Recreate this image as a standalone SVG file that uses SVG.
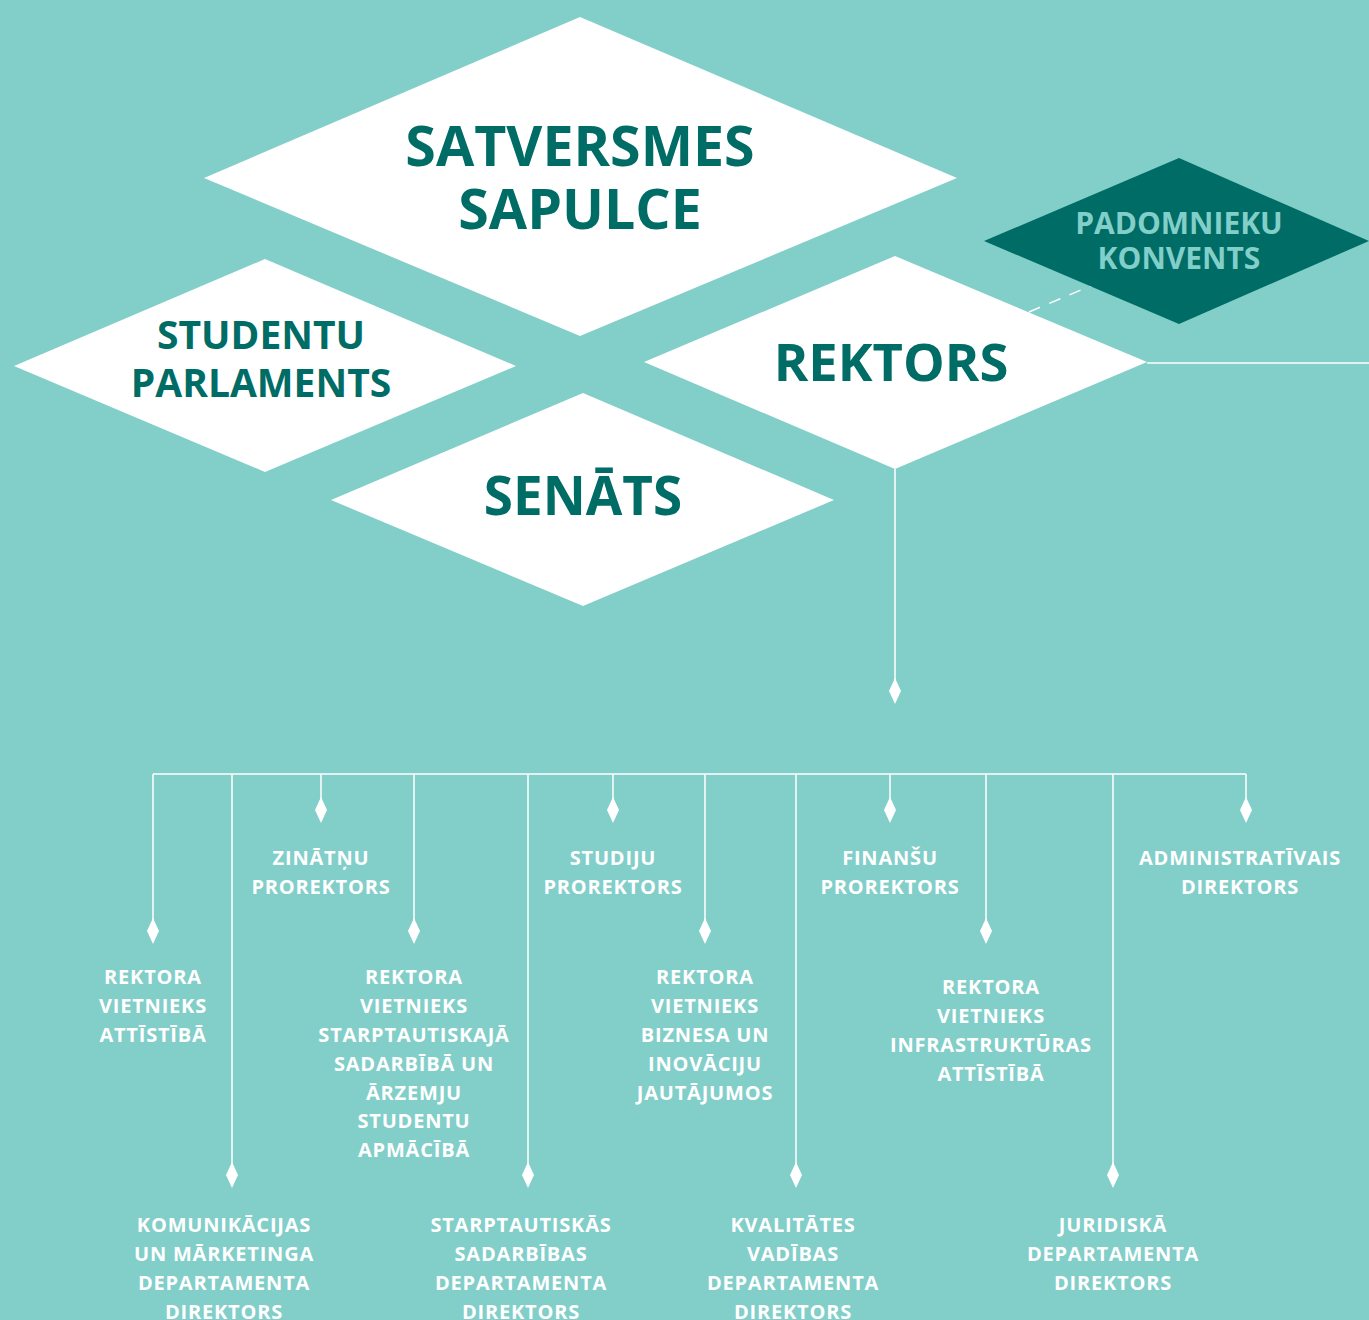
<svg xmlns="http://www.w3.org/2000/svg" width="1369" height="1320" viewBox="0 0 1369 1320">
<defs>
<style>
.bg{fill:#82cec9}
.wd{fill:#ffffff}
.dk{fill:#006c66}
.big{font-family:"Open Sans","Liberation Sans",sans-serif;font-weight:700;fill:#006c66;text-anchor:middle}
.pk{font-family:"Open Sans","Liberation Sans",sans-serif;font-weight:700;fill:#82cec9;text-anchor:middle;font-size:30px}
.lbl{font-family:"Open Sans","Liberation Sans",sans-serif;font-weight:700;fill:#ffffff;text-anchor:middle;font-size:20px;letter-spacing:0.8px}
.ln{stroke:#ffffff;stroke-width:1.5;fill:none}
</style>
<path id="mk" d="M0,-13 L6,0 L0,13 L-6,0 Z" fill="#ffffff"/>
</defs>
<rect class="bg" x="0" y="0" width="1369" height="1320"/>

<g id="connectors">
<line class="ln" x1="1147" y1="363" x2="1369" y2="363"/>
<line class="ln" x1="1029" y1="312" x2="1095" y2="284" stroke-dasharray="12,10"/>
<line class="ln" x1="895" y1="469" x2="895" y2="690"/>
<use href="#mk" x="895" y="691"/>
<line class="ln" x1="153" y1="774" x2="1246" y2="774"/>
<line class="ln" x1="153" y1="774" x2="153" y2="931"/><use href="#mk" x="153" y="931"/>
<line class="ln" x1="232" y1="774" x2="232" y2="1175"/><use href="#mk" x="232" y="1175"/>
<line class="ln" x1="321" y1="774" x2="321" y2="810"/><use href="#mk" x="321" y="810"/>
<line class="ln" x1="414" y1="774" x2="414" y2="931"/><use href="#mk" x="414" y="931"/>
<line class="ln" x1="528" y1="774" x2="528" y2="1175"/><use href="#mk" x="528" y="1175"/>
<line class="ln" x1="613" y1="774" x2="613" y2="810"/><use href="#mk" x="613" y="810"/>
<line class="ln" x1="705" y1="774" x2="705" y2="931"/><use href="#mk" x="705" y="931"/>
<line class="ln" x1="796" y1="774" x2="796" y2="1175"/><use href="#mk" x="796" y="1175"/>
<line class="ln" x1="890" y1="774" x2="890" y2="810"/><use href="#mk" x="890" y="810"/>
<line class="ln" x1="986" y1="774" x2="986" y2="931"/><use href="#mk" x="986" y="931"/>
<line class="ln" x1="1113" y1="774" x2="1113" y2="1175"/><use href="#mk" x="1113" y="1175"/>
<line class="ln" x1="1246" y1="774" x2="1246" y2="810"/><use href="#mk" x="1246" y="810"/>
</g>

<g id="padomnieku-konvents">
<polygon class="dk" points="984,241 1179,158 1369,241 1179,324"/>
<text class="pk" x="1179" y="234">PADOMNIEKU</text>
<text class="pk" x="1179" y="269">KONVENTS</text>
</g>

<g id="satversmes-sapulce">
<polygon class="wd" points="204,178 580,17 957,178 580,336"/>
<text class="big" x="580" y="166" font-size="55.5">SATVERSMES</text>
<text class="big" x="580" y="229" font-size="55.5">SAPULCE</text>
</g>

<g id="studentu-parlaments">
<polygon class="wd" points="14,366 265,259 516,366 265,472"/>
<text class="big" x="261" y="349" font-size="39">STUDENTU</text>
<text class="big" x="261" y="397" font-size="39">PARLAMENTS</text>
</g>

<g id="rektors">
<polygon class="wd" points="644,362 895,256 1147,362 895,469"/>
<text class="big" x="891" y="381" font-size="52.5">REKTORS</text>
</g>

<g id="senats">
<polygon class="wd" points="331,500 583,393 834,500 583,606"/>
<text class="big" x="583" y="515" font-size="53">SENĀTS</text>
</g>

<g id="zinatnu-prorektors">
<text class="lbl" x="321" y="865">ZINĀTŅU</text>
<text class="lbl" x="321" y="894">PROREKTORS</text>
</g>
<g id="studiju-prorektors">
<text class="lbl" x="613" y="865">STUDIJU</text>
<text class="lbl" x="613" y="894">PROREKTORS</text>
</g>
<g id="finansu-prorektors">
<text class="lbl" x="890" y="865">FINANŠU</text>
<text class="lbl" x="890" y="894">PROREKTORS</text>
</g>
<g id="administrativais-direktors">
<text class="lbl" x="1240" y="865">ADMINISTRATĪVAIS</text>
<text class="lbl" x="1240" y="894">DIREKTORS</text>
</g>

<g id="rv-attistiba">
<text class="lbl" x="153" y="984">REKTORA</text>
<text class="lbl" x="153" y="1013">VIETNIEKS</text>
<text class="lbl" x="153" y="1042">ATTĪSTĪBĀ</text>
</g>
<g id="rv-starptautiska">
<text class="lbl" x="414" y="984">REKTORA</text>
<text class="lbl" x="414" y="1013">VIETNIEKS</text>
<text class="lbl" x="414" y="1042">STARPTAUTISKAJĀ</text>
<text class="lbl" x="414" y="1071">SADARBĪBĀ UN</text>
<text class="lbl" x="414" y="1100">ĀRZEMJU</text>
<text class="lbl" x="414" y="1128">STUDENTU</text>
<text class="lbl" x="414" y="1157">APMĀCĪBĀ</text>
</g>
<g id="rv-biznesa">
<text class="lbl" x="705" y="984">REKTORA</text>
<text class="lbl" x="705" y="1013">VIETNIEKS</text>
<text class="lbl" x="705" y="1042">BIZNESA UN</text>
<text class="lbl" x="705" y="1071">INOVĀCIJU</text>
<text class="lbl" x="705" y="1100">JAUTĀJUMOS</text>
</g>
<g id="rv-infrastruktura">
<text class="lbl" x="991" y="994">REKTORA</text>
<text class="lbl" x="991" y="1023">VIETNIEKS</text>
<text class="lbl" x="991" y="1052">INFRASTRUKTŪRAS</text>
<text class="lbl" x="991" y="1081">ATTĪSTĪBĀ</text>
</g>

<g id="komunikacijas">
<text class="lbl" x="224" y="1232">KOMUNIKĀCIJAS</text>
<text class="lbl" x="224" y="1261">UN MĀRKETINGA</text>
<text class="lbl" x="224" y="1290">DEPARTAMENTA</text>
<text class="lbl" x="224" y="1319">DIREKTORS</text>
</g>
<g id="starptautiskas">
<text class="lbl" x="521" y="1232">STARPTAUTISKĀS</text>
<text class="lbl" x="521" y="1261">SADARBĪBAS</text>
<text class="lbl" x="521" y="1290">DEPARTAMENTA</text>
<text class="lbl" x="521" y="1319">DIREKTORS</text>
</g>
<g id="kvalitates">
<text class="lbl" x="793" y="1232">KVALITĀTES</text>
<text class="lbl" x="793" y="1261">VADĪBAS</text>
<text class="lbl" x="793" y="1290">DEPARTAMENTA</text>
<text class="lbl" x="793" y="1319">DIREKTORS</text>
</g>
<g id="juridiska">
<text class="lbl" x="1113" y="1232">JURIDISKĀ</text>
<text class="lbl" x="1113" y="1261">DEPARTAMENTA</text>
<text class="lbl" x="1113" y="1290">DIREKTORS</text>
</g>
</svg>
